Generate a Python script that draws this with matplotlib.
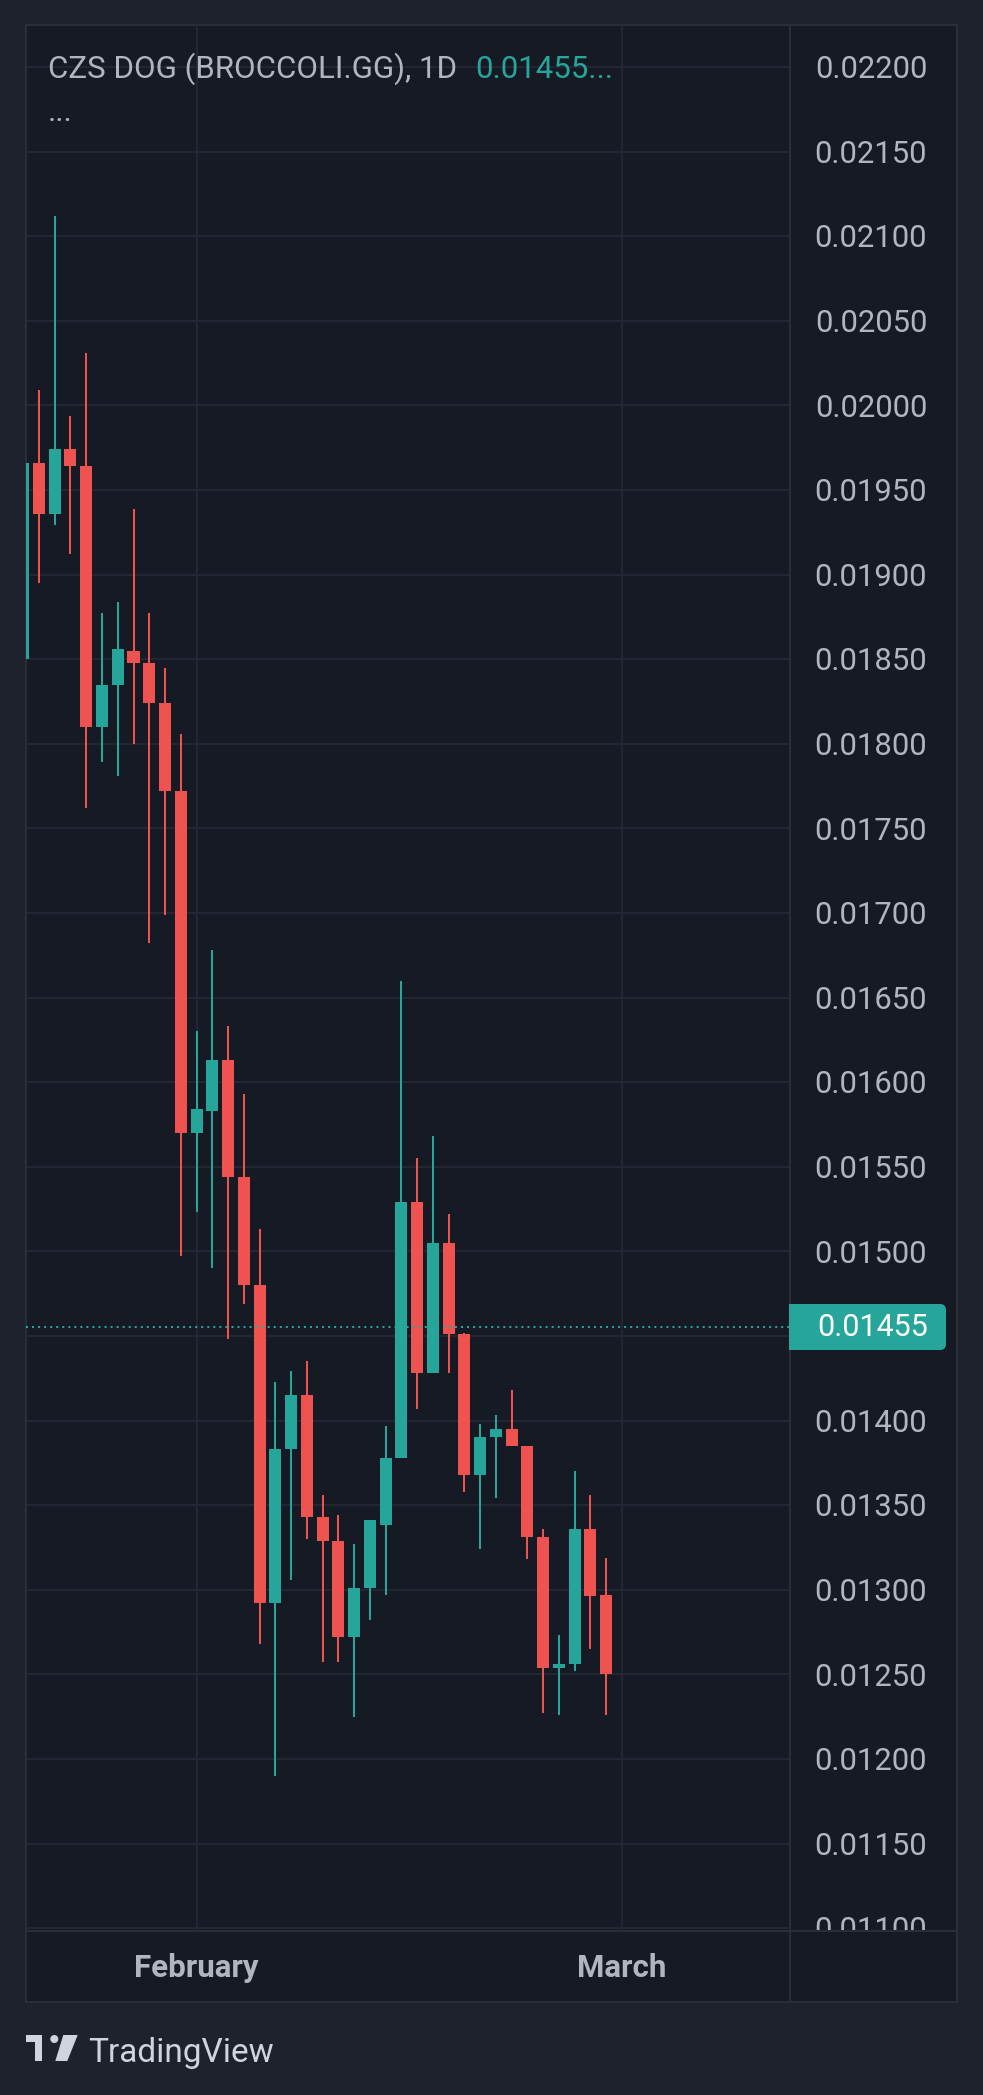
import matplotlib
matplotlib.use('Agg')
import matplotlib.pyplot as plt
import matplotlib.transforms as mtransforms
from matplotlib.patches import Rectangle, Polygon, Circle, FancyBboxPatch

# Daily candles, CZS DOG (BROCCOLI.GG)
opens  = [0.01850, 0.01966, 0.01936, 0.01974, 0.01964, 0.01810, 0.01835, 0.01855,
          0.01848, 0.01824, 0.01772, 0.01570, 0.01583, 0.01613, 0.01544, 0.01480,
          0.01292, 0.01383, 0.01415, 0.01343, 0.01329, 0.01272, 0.01301, 0.01338,
          0.01378, 0.01529, 0.01428, 0.01505, 0.01451, 0.01368, 0.01390, 0.01395,
          0.01385, 0.01331, 0.01254, 0.01256, 0.01336, 0.01297]
highs  = [0.01970, 0.02009, 0.02112, 0.01994, 0.02031, 0.01877, 0.01884, 0.01939,
          0.01877, 0.01845, 0.01806, 0.01630, 0.01678, 0.01633, 0.01593, 0.01513,
          0.01423, 0.01429, 0.01435, 0.01356, 0.01344, 0.01327, 0.01341, 0.01397,
          0.01660, 0.01555, 0.01568, 0.01522, 0.01452, 0.01398, 0.01403, 0.01418,
          0.01385, 0.01336, 0.01273, 0.01370, 0.01356, 0.01319]
lows   = [0.01840, 0.01895, 0.01929, 0.01912, 0.01762, 0.01789, 0.01781, 0.01800,
          0.01682, 0.01699, 0.01497, 0.01523, 0.01490, 0.01448, 0.01469, 0.01268,
          0.01190, 0.01306, 0.01330, 0.01257, 0.01257, 0.01225, 0.01282, 0.01297,
          0.01378, 0.01407, 0.01428, 0.01428, 0.01358, 0.01324, 0.01354, 0.01385,
          0.01318, 0.01227, 0.01226, 0.01252, 0.01265, 0.01226]
closes = [0.01966, 0.01936, 0.01974, 0.01964, 0.01810, 0.01835, 0.01856, 0.01848,
          0.01824, 0.01772, 0.01570, 0.01584, 0.01613, 0.01544, 0.01480, 0.01292,
          0.01383, 0.01415, 0.01343, 0.01329, 0.01272, 0.01301, 0.01341, 0.01378,
          0.01529, 0.01428, 0.01505, 0.01451, 0.01368, 0.01390, 0.01395, 0.01385,
          0.01331, 0.01254, 0.01256, 0.01336, 0.01296, 0.01250]

price_labels = ['0.02200', '0.02150', '0.02100', '0.02050', '0.02000', '0.01950',
                '0.01900', '0.01850', '0.01800', '0.01750', '0.01700', '0.01650',
                '0.01600', '0.01550', '0.01500', '0.01450', '0.01400', '0.01350',
                '0.01300', '0.01250', '0.01200', '0.01150', '0.01100']
month_labels = ['February', 'March']
month_bars = [11, 38]
last_price = 0.01455

# colours
OUTER = '#1e222d'
PANE = '#161a25'
GRID = '#232632'
BORDER = '#2a2e39'
TEXT = '#b2b5be'
UP = '#26a69a'
DOWN = '#ef5350'

W, H = 983, 2095
plt.rcParams['font.family'] = ['Roboto', 'DejaVu Sans']

fig = plt.figure(figsize=(W / 100, H / 100), dpi=100)
fig.patch.set_facecolor(OUTER)


def box(x0, y0, x1, y1):
    # pixel box (top-left origin) -> figure fraction rect
    return [x0 / W, 1 - y1 / H, (x1 - x0) / W, (y1 - y0) / H]


XLIM = (0.175, 48.68)
YLIM = (0.010983, 0.022248)

ax = fig.add_axes(box(26, 25, 790, 1931))
pax = fig.add_axes(box(790, 25, 957, 1931))
tax = fig.add_axes(box(26, 1931, 790, 2002))
cax = fig.add_axes(box(790, 1931, 957, 2002))

for a in (ax, pax, tax, cax):
    a.set_facecolor(PANE)
    a.set_xticks([])
    a.set_yticks([])
    for s in a.spines.values():
        s.set_color(BORDER)
        s.set_linewidth(1.5)

ax.set_xlim(*XLIM)
ax.set_ylim(*YLIM)
pax.set_xlim(0, 1)
pax.set_ylim(*YLIM)
tax.set_xlim(*XLIM)
tax.set_ylim(0, 1)

# grid
for lab in price_labels:
    ax.axhline(float(lab), color=GRID, lw=1.5, zorder=0)
for b in month_bars:
    ax.axvline(b, color=GRID, lw=1.5, zorder=0)

# candles
for i in range(len(opens)):
    o, h, l, c = opens[i], highs[i], lows[i], closes[i]
    col = UP if c >= o else DOWN
    ax.vlines(i, l, h, color=col, lw=1.45, zorder=2)
    ax.bar(i, abs(c - o), bottom=min(o, c), width=0.762, color=col,
           linewidth=0, zorder=3)

ax.axhline(last_price, color=UP, lw=1.45, ls=(0, (1, 2)), zorder=4)

# price scale labels (the one under the last-price tag is hidden, as on TradingView)
shift = mtransforms.ScaledTranslation(0, -0.028, fig.dpi_scale_trans)
for lab in price_labels:
    if abs(float(lab) - last_price) < 0.0002:
        continue
    pax.text(0.485, float(lab), lab, color=TEXT, fontsize=22.3,
             ha='center', va='center', clip_on=True,
             transform=pax.transData + shift)

# month labels
for lab, b in zip(month_labels, month_bars):
    tax.text(b, 0.48, lab, color=TEXT, fontsize=22.5, fontweight='bold',
             ha='center', va='center')

# overlay in pixel coordinates
ov = fig.add_axes([0, 0, 1, 1], zorder=10)
ov.set_xlim(0, W)
ov.set_ylim(H, 0)
ov.axis('off')

# last price tag
ov.add_patch(FancyBboxPatch((789, 1304), 157, 46,
                            boxstyle='round,pad=0,rounding_size=6',
                            fc=UP, ec='none'))
ov.add_patch(Rectangle((789, 1304), 12, 46, fc=UP, ec='none'))
ov.text(873, 1328, '0.01455', color='white', fontsize=22,
        ha='center', va='center')

# legend line
ov.text(47.5, 78, 'CZS DOG (BROCCOLI.GG), 1D', color=TEXT, fontsize=22.5,
        ha='left', va='baseline')
ov.text(475, 78, '0.01455...', color=UP, fontsize=22.5, ha='left', va='baseline')
ov.text(47.5, 121, '...', color=TEXT, fontsize=22.5, ha='left', va='baseline')

# TradingView logo
LOGO = '#d1d4dc'
ov.add_patch(Polygon([(26, 2035), (42.3, 2035), (42.3, 2061), (35, 2061),
                      (35, 2042.3), (26, 2042.3)], closed=True, fc=LOGO, ec='none'))
ov.add_patch(Circle((54.3, 2039), 4.0, fc=LOGO, ec='none'))
ov.add_patch(Polygon([(63.3, 2035), (77.7, 2035), (67.3, 2061), (55.3, 2061)],
                     closed=True, fc=LOGO, ec='none'))
ov.text(88, 2062, 'TradingView', color=LOGO, fontsize=24, ha='left', va='baseline')

fig.savefig('out.png', dpi=100, facecolor=OUTER)
